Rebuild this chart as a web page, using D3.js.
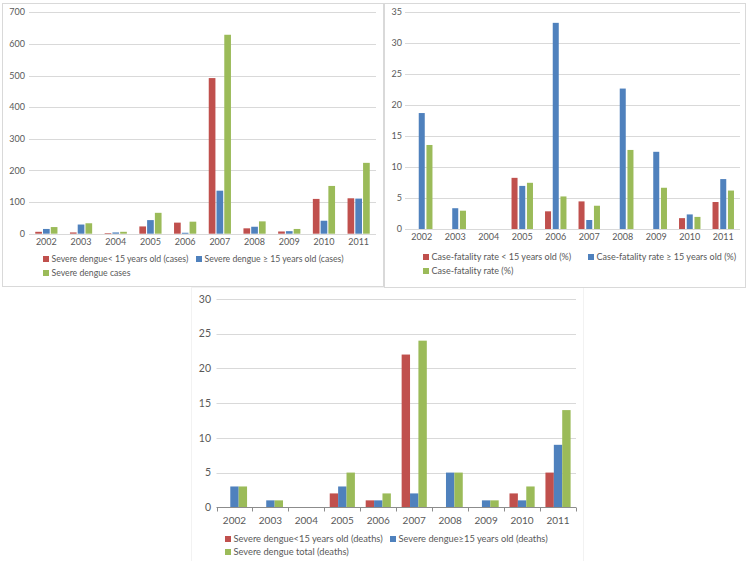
<!DOCTYPE html>
<html>
<head>
<meta charset="utf-8">
<script src="https://cdn.jsdelivr.net/npm/d3@7/dist/d3.min.js"></script>
<style>
  html, body { margin: 0; padding: 0; background: #ffffff; }
  svg { display: block; }
  text { font-family: Lato, "Open Sans", sans-serif; fill: #595959; }
</style>
</head>
<body>
<svg id="chart" width="750" height="561"></svg>
<script>
// ---------- data ----------
const years = ["2002","2003","2004","2005","2006","2007","2008","2009","2010","2011"];

const casesSeries = ["Severe dengue< 15 years old (cases)", "Severe dengue \u2265 15 years old (cases)", "Severe dengue cases"];
const casesUnder15 = [6, 4, 2, 23, 35, 492, 17, 7, 110, 112];
const casesOver15  = [15, 29, 4, 43, 3, 136, 22, 8, 41, 111];
const casesTotal   = [21, 33, 6, 66, 38, 629, 39, 15, 151, 224];
const casesTicks   = [0, 100, 200, 300, 400, 500, 600, 700];

const cfrSeries = ["Case-fatality rate < 15 years old (%)", "Case-fatality rate \u2265 15 years old (%)", "Case-fatality rate (%)"];
const cfrUnder15 = [0, 0, 0, 8.3, 2.9, 4.5, 0, 0, 1.8, 4.4];
const cfrOver15  = [18.75, 3.4, 0, 7.0, 33.3, 1.5, 22.7, 12.5, 2.4, 8.1];
const cfrTotal   = [13.6, 3.0, 0, 7.5, 5.3, 3.8, 12.8, 6.7, 2.0, 6.25];
const cfrTicks   = [0, 5, 10, 15, 20, 25, 30, 35];

const deathSeries = ["Severe dengue<15 years old (deaths)", "Severe dengue\u226515 years old (deaths)", "Severe dengue total (deaths)"];
const deathsUnder15 = [0, 0, 0, 2, 1, 22, 0, 0, 2, 5];
const deathsOver15  = [3, 1, 0, 3, 1, 2, 5, 1, 1, 9];
const deathsTotal   = [3, 1, 0, 5, 2, 24, 5, 1, 3, 14];
const deathTicks    = [0, 5, 10, 15, 20, 25, 30];

const colors = ["#C0504D", "#4F81BD", "#9BBB59"];

// ---------- drawing ----------
const svg = d3.select("#chart");

function drawChart(cfg) {
  const g = svg.append("g");
  if (cfg.box) {
    g.append("rect")
      .attr("x", cfg.box[0] + 0.5).attr("y", cfg.box[1] + 0.5)
      .attr("width", cfg.box[2] - cfg.box[0]).attr("height", cfg.box[3] - cfg.box[1])
      .attr("fill", "none").attr("stroke", cfg.boxColor).attr("stroke-width", 1);
  }
  const y = d3.scaleLinear().domain([0, d3.max(cfg.ticks)]).range([cfg.bottom, cfg.top]);
  const x0 = d3.scaleBand().domain(years).range([cfg.left, cfg.right])
    .paddingInner(cfg.groupPad).paddingOuter(cfg.groupPad / 2);
  const x1 = d3.scaleBand().domain(d3.range(cfg.series.length)).range([0, x0.bandwidth()])
    .paddingInner(cfg.barPad);

  // gridlines
  g.append("g").selectAll("line").data(cfg.ticks.filter(t => t > 0)).join("line")
    .attr("x1", cfg.left).attr("x2", cfg.right)
    .attr("y1", d => Math.round(y(d)) + 0.5).attr("y2", d => Math.round(y(d)) + 0.5)
    .attr("stroke", "#d9d9d9").attr("stroke-width", 1);

  // y labels
  g.append("g").selectAll("text").data(cfg.ticks).join("text")
    .attr("x", cfg.labelX).attr("y", d => y(d)).attr("dy", "0.35em")
    .attr("text-anchor", "end").style("font-size", cfg.fontSize + "px")
    .text(d => d);

  // bars
  const values = cfg.values;
  const groups = g.append("g").selectAll("g").data(years).join("g")
    .attr("transform", d => `translate(${x0(d)},0)`);
  groups.selectAll("rect").data((yr, i) => values.map((arr, s) => ({ s, v: arr[i] })))
    .join("rect")
    .attr("x", d => x1(d.s)).attr("width", x1.bandwidth())
    .attr("y", d => y(d.v)).attr("height", d => y(0) - y(d.v))
    .attr("fill", d => colors[d.s]);

  // axis line
  const base = Math.round(y(0)) + 0.5;
  g.append("line").attr("x1", cfg.left).attr("x2", cfg.right)
    .attr("y1", base).attr("y2", base)
    .attr("stroke", cfg.axisColor).attr("stroke-width", 1);
  if (cfg.tickMarks) {
    const step = x0.step();
    g.append("g").selectAll("line").data(d3.range(years.length + 1)).join("line")
      .attr("x1", i => Math.round(cfg.left + i * step) + 0.5)
      .attr("x2", i => Math.round(cfg.left + i * step) + 0.5)
      .attr("y1", base).attr("y2", base + 4)
      .attr("stroke", cfg.axisColor);
  }

  // category labels
  g.append("g").selectAll("text").data(years).join("text")
    .attr("x", d => x0(d) + x0.bandwidth() / 2).attr("y", cfg.catY).attr("dy", "0.35em")
    .attr("text-anchor", "middle").style("font-size", cfg.catFontSize + "px")
    .text(d => d);

  // legend
  const leg = cfg.legend;
  const positions = [[leg.x1, leg.row1], [leg.x2, leg.row1], [leg.x1, leg.row2]];
  cfg.series.forEach((name, i) => {
    const [lx, ly] = positions[i];
    g.append("rect").attr("x", lx).attr("y", ly - leg.sq / 2)
      .attr("width", leg.sq).attr("height", leg.sq).attr("fill", colors[i]);
    g.append("text").attr("x", lx + leg.sq + 2.5).attr("y", ly).attr("dy", "0.35em")
      .style("font-size", leg.fontSize + "px").text(name);
  });
}

// bottom chart first (its faint box sits behind the top boxes)
drawChart({
  box: [191, 287, 583, 575], boxColor: "#f2f2f2",
  series: deathSeries, values: [deathsUnder15, deathsOver15, deathsTotal], ticks: deathTicks,
  left: 216.5, right: 576, top: 299, bottom: 507.3,
  groupPad: 0.30, barPad: 0, labelX: 211, fontSize: 10.5, catFontSize: 10, catY: 520,
  axisColor: "#8c8c8c", tickMarks: true,
  legend: { x1: 225, x2: 390, row1: 539, row2: 552, sq: 6, fontSize: 9.3 }
});

drawChart({
  box: [2, 3, 383, 286], boxColor: "#d9d9d9",
  series: casesSeries, values: [casesUnder15, casesOver15, casesTotal], ticks: casesTicks,
  left: 29, right: 376, top: 12.3, bottom: 233.7,
  groupPad: 0.36, barPad: 0.14, labelX: 25, fontSize: 9, catFontSize: 9, catY: 242,
  axisColor: "#d9d9d9", tickMarks: false,
  legend: { x1: 43, x2: 196, row1: 259, row2: 273, sq: 6, fontSize: 8.7 }
});

drawChart({
  box: [384, 3, 745, 287], boxColor: "#d9d9d9",
  series: cfrSeries, values: [cfrUnder15, cfrOver15, cfrTotal], ticks: cfrTicks,
  left: 405, right: 740, top: 12.3, bottom: 229.3,
  groupPad: 0.36, barPad: 0.22, labelX: 402, fontSize: 9, catFontSize: 9, catY: 237,
  axisColor: "#d9d9d9", tickMarks: false,
  legend: { x1: 423, x2: 588, row1: 257, row2: 271, sq: 6, fontSize: 9 }
});
</script>
</body>
</html>
